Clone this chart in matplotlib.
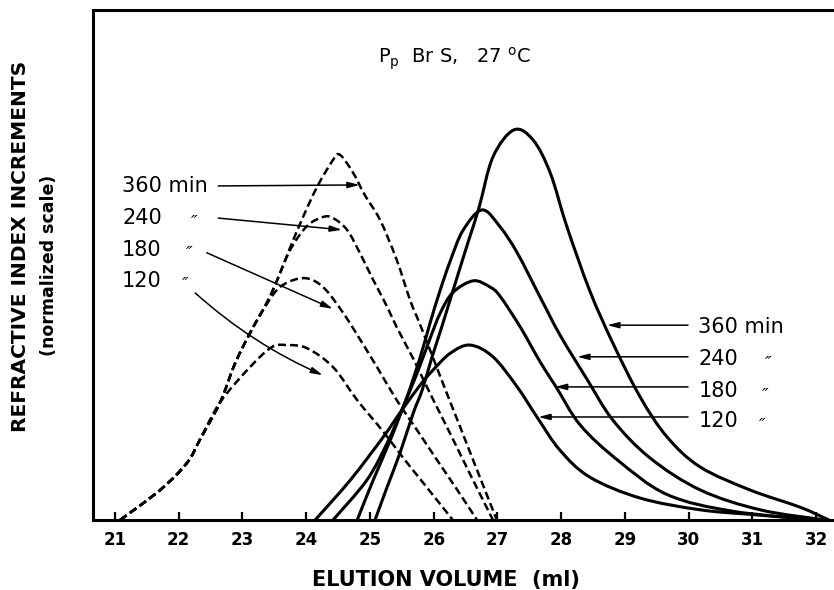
import matplotlib
matplotlib.use('Agg')
import matplotlib.pyplot as plt
from matplotlib.path import Path
from matplotlib.patches import PathPatch

# ---------- data (elution volume ml, normalized RI) ----------
times = ['360', '240', '180', '120']

# solid curves
solid_x = {
    '360': [25.08, 25.27, 25.47, 25.68, 25.82, 25.97, 26.13, 26.33, 26.55, 26.71, 26.93, 27.26,
            27.56, 27.83, 28.09, 28.45, 28.81, 29.24, 29.66, 30.18, 30.96, 31.75, 32.20],
    '240': [24.80, 25.05, 25.32, 25.58, 25.79, 25.94, 26.10, 26.26, 26.46, 26.76, 27.04, 27.31,
            27.67, 27.98, 28.41, 28.81, 29.39, 30.18, 31.12, 32.14],
    '180': [24.42, 24.95, 25.27, 25.52, 25.74, 25.94, 26.10, 26.30, 26.62, 26.88, 27.04, 27.36,
            27.67, 27.92, 28.30, 28.88, 29.66, 30.70, 32.06],
    '120': [24.14, 24.69, 25.21, 25.47, 25.79, 25.99, 26.26, 26.57, 26.93, 27.31, 27.62, 27.98,
            28.45, 29.24, 30.18, 31.07, 32.02],
}
solid_y = {
    '360': [0.0, 6.5, 13.1, 21.0, 25.5, 31.8, 38.0, 46.1, 54.9, 61.2, 71.2, 76.5,
            74.5, 68.0, 57.5, 44.9, 34.7, 24.1, 16.3, 10.4, 5.9, 2.5, 0.0],
    '240': [0.0, 7.8, 15.7, 24.1, 32.0, 38.5, 45.0, 50.8, 56.8, 60.8, 57.5, 52.4,
            43.7, 36.3, 27.5, 19.6, 12.2, 5.9, 2.0, 0.0],
    '180': [0.0, 7.8, 15.1, 22.2, 28.8, 35.5, 40.5, 44.6, 46.9, 45.7, 43.9, 37.8,
            31.0, 26.1, 18.6, 11.8, 5.0, 1.7, 0.0],
    '120': [0.0, 7.8, 16.3, 21.0, 26.5, 29.4, 32.7, 34.3, 32.0, 26.1, 20.2, 13.7,
            8.4, 4.3, 2.0, 1.0, 0.0],
}

# dashed curves
lead_x = [21.08, 21.71, 22.13, 22.33, 22.65]
lead_y = [0.0, 5.9, 11.2, 15.7, 23.1]
dash_x = {
    '360': lead_x + [22.88, 23.12, 23.39, 23.54, 23.75, 23.95, 24.17, 24.42, 24.53, 24.73, 24.92,
                     25.16, 25.42, 25.63, 25.79, 25.99, 26.21, 26.41, 26.68, 26.99],
    '240': lead_x + [22.88, 23.12, 23.39, 23.54, 23.75, 24.01, 24.26, 24.42, 24.64, 24.84, 25.05,
                     25.27, 25.42, 25.68, 25.94, 26.26, 26.57, 26.93],
    '180': lead_x + [22.88, 23.12, 23.39, 23.59, 23.87, 24.09, 24.31, 24.58, 24.80, 25.11, 25.42,
                     25.74, 26.05, 26.37, 26.68],
    '120': lead_x + [23.12, 23.46, 23.70, 24.01, 24.42, 24.80, 25.21, 25.52, 25.86, 26.30],
}
dash_y = {
    '360': lead_y + [30.6, 36.7, 42.8, 46.9, 53.5, 59.4, 65.3, 70.6, 71.6, 68.2, 63.7,
                     58.8, 51.0, 43.1, 38.2, 31.8, 24.7, 18.4, 9.8, 0.0],
    '240': lead_y + [30.6, 36.7, 42.8, 46.9, 53.0, 57.6, 59.4, 59.2, 56.9, 52.4, 47.1,
                     41.8, 37.8, 31.6, 24.9, 16.9, 9.0, 0.0],
    '180': lead_y + [30.6, 36.7, 42.5, 45.7, 47.3, 47.1, 45.1, 40.6, 36.3, 30.0, 23.5,
                     17.6, 11.8, 5.9, 0.0],
    '120': lead_y + [30.0, 33.9, 34.3, 33.7, 30.0, 23.5, 17.3, 12.2, 6.9, 0.0],
}

xticks = [21, 22, 23, 24, 25, 26, 27, 28, 29, 30, 31, 32]


def smooth_path(xs, ys):
    # Catmull-Rom through the read points, handed to matplotlib as cubic Bezier segments
    pts = list(zip(xs, ys))
    verts = [pts[0]]
    codes = [Path.MOVETO]
    n = len(pts)
    for i in range(n - 1):
        p0 = pts[max(i - 1, 0)]
        p1 = pts[i]
        p2 = pts[i + 1]
        p3 = pts[min(i + 2, n - 1)]
        c1 = (p1[0] + (p2[0] - p0[0]) / 6, p1[1] + (p2[1] - p0[1]) / 6)
        c2 = (p2[0] - (p3[0] - p1[0]) / 6, p2[1] - (p3[1] - p1[1]) / 6)
        verts += [c1, c2, p2]
        codes += [Path.CURVE4] * 3
    return Path(verts, codes)


# ---------- figure ----------
fig = plt.figure(figsize=(8.34, 5.90), dpi=100)
ax = fig.add_axes([93 / 834, 70 / 590, 741 / 834, 510 / 590])

for t in times:
    ax.add_patch(PathPatch(smooth_path(solid_x[t], solid_y[t]), fill=False,
                           edgecolor='black', lw=2.2, joinstyle='round', capstyle='round'))
    ax.add_patch(PathPatch(smooth_path(dash_x[t], dash_y[t]), fill=False,
                           edgecolor='black', lw=1.8, linestyle=(0, (3.2, 1.6))))

ax.set_xlim(20.655, 32.28)
ax.set_ylim(0, 100)
ax.set_yticks([])
ax.set_xticks(xticks)
ax.set_xticklabels([str(v) for v in xticks], fontsize=12, fontweight='bold')
ax.tick_params(axis='x', direction='in', length=6, width=1.6, pad=8)
ax.spines['right'].set_visible(False)
for s in ['left', 'top', 'bottom']:
    ax.spines[s].set_linewidth(2.2)

# ---------- labels and arrows ----------
arrow = dict(arrowstyle='-|>,head_length=0.7,head_width=0.18', color='black', lw=1.1,
             shrinkA=0, shrinkB=0)

left_lab = [('360 min', 64.3, None, (22.62, 65.5), (24.84, 65.7), 'arc3'),
            ('240', 58.0, 22.24, (22.62, 59.2), (24.56, 56.9), 'arc3'),
            ('180', 51.8, 22.17, (22.44, 52.4), (24.42, 41.4), 'arc3'),
            ('120', 45.7, 22.10, (22.26, 44.5), (24.26, 28.4), 'arc3,rad=0.08')]
for txt, yb, xq, start, tip, cs in left_lab:
    ax.text(21.11, yb, txt, fontsize=15, ha='left', va='baseline')
    if xq is not None:
        ax.text(xq, yb - 0.7, '″', fontsize=13, fontstyle='italic', ha='center', va='baseline')
    ax.annotate('', xy=tip, xytext=start,
                arrowprops=dict(arrow, connectionstyle=cs))

right_lab = [('360 min', 36.7, None, 38.2, 28.72),
             ('240', 30.4, 31.25, 32.0, 28.25),
             ('180', 24.1, 31.21, 26.1, 27.90),
             ('120', 18.2, 31.16, 20.2, 27.64)]
for txt, yb, xq, ya, xtip in right_lab:
    ax.text(30.15, yb, txt, fontsize=15, ha='left', va='baseline')
    if xq is not None:
        ax.text(xq, yb - 0.7, '″', fontsize=13, fontstyle='italic', ha='center', va='baseline')
    ax.annotate('', xy=(xtip, ya), xytext=(29.99, ya), arrowprops=arrow)

ax.text(25.13, 89.6, r'P$_{\mathregular{p}}$  Br S,   27 $^{\mathregular{o}}$C',
        fontsize=14, ha='left', va='baseline')

fig.text(21 / 834, 1 - 246 / 590, 'REFRACTIVE INDEX INCREMENTS', rotation=90,
         fontsize=14.5, fontweight='bold', ha='center', va='center')
fig.text(49 / 834, 1 - 265 / 590, '(normalized scale)', rotation=90,
         fontsize=12.5, fontweight='bold', ha='center', va='center')
fig.text(446 / 834, 1 - 580 / 590, 'ELUTION VOLUME  (ml)',
         fontsize=15, fontweight='bold', ha='center', va='center')

fig.savefig('out.png', dpi=100)
